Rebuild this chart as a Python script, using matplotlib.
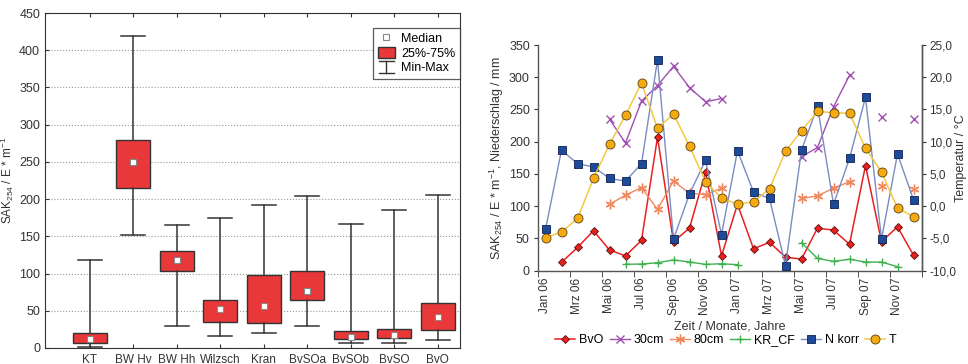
import matplotlib
matplotlib.use("Agg")
import matplotlib.pyplot as plt
import numpy as np
from matplotlib.legend_handler import HandlerBase
from matplotlib.lines import Line2D
from matplotlib.patches import Patch
from matplotlib.ticker import FuncFormatter, MultipleLocator, FixedLocator

plt.rcParams['font.family'] = ['Liberation Sans', 'DejaVu Sans']
plt.rcParams['mathtext.fontset'] = 'custom'
plt.rcParams['mathtext.rm'] = 'Liberation Sans'
plt.rcParams['mathtext.it'] = 'Liberation Sans:italic'
plt.rcParams['mathtext.bf'] = 'Liberation Sans:bold'

nan = np.nan

# linke Grafik: SAK254 je Messstelle
sites = ['KT', 'BW Hv', 'BW Hh', 'Wilzsch', 'Kran', 'BvSOa', 'BvSOb', 'BvSO', 'BvO']
sak_min = [1, 152, 29, 16, 20, 29, 7, 7, 11]
sak_q1 = [7, 215, 104, 35, 34, 65, 12, 13, 24]
sak_med = [12, 250, 118, 52, 57, 77, 15, 17, 41]
sak_q3 = [20, 280, 130, 65, 98, 104, 23, 26, 61]
sak_max = [118, 419, 165, 174, 192, 204, 166, 186, 206]

# rechte Grafik: Monatswerte Jan 06 - Dez 07
months = ['Jan 06', 'Feb 06', 'Mrz 06', 'Apr 06', 'Mai 06', 'Jun 06', 'Jul 06', 'Aug 06',
          'Sep 06', 'Okt 06', 'Nov 06', 'Dez 06', 'Jan 07', 'Feb 07', 'Mrz 07', 'Apr 07',
          'Mai 07', 'Jun 07', 'Jul 07', 'Aug 07', 'Sep 07', 'Okt 07', 'Nov 07', 'Dez 07']
bvo = [nan, 13, 36, 62, 32, 23, 47, 207, 45, 66, 153, 23,
       103, 34, 44, 21, 18, 66, 63, 41, 163, 45, 68, 24]
cm30 = [nan, nan, nan, nan, 235, 198, 263, 287, 317, 284, 262, 267,
        nan, nan, nan, nan, 177, 191, 254, 303, nan, 238, nan, 236]
cm80 = [nan, nan, nan, nan, 103, 117, 129, 95, 139, 120, 118, 128,
        nan, nan, nan, nan, 112, 116, 128, 138, nan, 132, nan, 126]
kr_cf = [nan, nan, nan, nan, nan, 10, 10.3, 12.4, 16.7, 13.5, 9.8, 10.8,
         9.3, nan, nan, nan, 43.5, 19, 14.5, 17.8, 13.4, 13.4, 6.2, nan]
n_korr = [64, 187, 166, 161, 143, 139, 166, 327, 49, 119, 171, 56,
          186, 122, 112, 8, 187, 255, 103, 174, 269, 49, 181, 110]
temp = [-4.9, -4.0, -1.9, 4.3, 9.6, 14.1, 19.1, 12.1, 14.3, 9.3, 3.8, 1.3,
        0.3, 0.7, 2.7, 8.5, 11.7, 14.7, 14.5, 14.4, 9.0, 5.3, -0.3, -1.6]

sak_label = 'SAK$_{254}$ / E * m$^{-1}$'
dark = '#333333'


class MinMaxHandler(HandlerBase):
    # Legendensymbol fuer Min-Max (Whisker mit Kappen)
    def create_artists(self, legend, orig_handle, xdescent, ydescent,
                       width, height, fontsize, trans):
        x0, x1 = -xdescent + width * 0.05, -xdescent + width * 0.95
        cx = -xdescent + width / 2
        yb, yt = -ydescent, -ydescent + height
        kw = dict(color=dark, lw=1.0, transform=trans)
        return [Line2D([x0, x1], [yt, yt], **kw),
                Line2D([cx, cx], [yb, yt], **kw),
                Line2D([x0, x1], [yb, yb], **kw)]


fig = plt.figure(figsize=(9.68, 3.64), dpi=100)

# ---------- Boxplot ----------
ax1 = fig.add_axes([45 / 968, 16 / 364, 415 / 968, 335 / 364])
pos = np.arange(1, len(sites) + 1)
stats = []
for i in range(len(sites)):
    stats.append({'med': sak_med[i], 'q1': sak_q1[i], 'q3': sak_q3[i],
                  'whislo': sak_min[i], 'whishi': sak_max[i], 'fliers': []})
ax1.bxp(stats, positions=pos, widths=0.78, capwidths=0.55, patch_artist=True,
        showfliers=False,
        boxprops=dict(facecolor='#e8383a', edgecolor=dark, linewidth=1.0),
        whiskerprops=dict(color=dark, linewidth=1.1),
        capprops=dict(color=dark, linewidth=1.1),
        medianprops=dict(linestyle='none'), zorder=3)
ax1.plot(pos, sak_med, 's', ms=5, mfc='white', mec='#888888', mew=0.8, ls='none', zorder=4)

ax1.set_xlim(-0.034, 9.51)
ax1.set_ylim(0, 450)
ax1.set_xticks(pos)
ax1.set_xticklabels(sites, fontsize=8.5)
ax1.yaxis.set_major_locator(MultipleLocator(50))
ax1.tick_params(axis='both', direction='in', labelsize=9, colors=dark, length=3)
ax1.tick_params(axis='x', top=True, pad=4, labelsize=8.5)
ax1.grid(axis='y', linestyle=':', color='#999999', linewidth=0.8, zorder=0)
ax1.set_axisbelow(True)
for s in ax1.spines.values():
    s.set_color(dark)
ax1.set_ylabel(sak_label, fontsize=8.5, color=dark)
ax1.yaxis.set_label_coords((16 - 45) / 415, 0.5)

h_med = Line2D([], [], marker='s', ms=5, mfc='white', mec='#888888', mew=0.8, ls='none')
h_box = Patch(facecolor='#e8383a', edgecolor=dark, linewidth=1.0)
h_mm = object()
leg1 = ax1.legend([h_med, h_box, h_mm], ['Median', '25%-75%', 'Min-Max'],
                  handler_map={h_mm: MinMaxHandler()},
                  loc='upper right', bbox_to_anchor=(1.0, 1 - 14.5 / 335),
                  borderaxespad=0, fontsize=9, frameon=True, fancybox=False,
                  handlelength=1.4, handleheight=1.0, handletextpad=0.5,
                  labelspacing=0.15, borderpad=0.35)
leg1.get_frame().set_edgecolor(dark)
leg1.get_frame().set_linewidth(0.9)

# ---------- Zeitreihen ----------
ax2 = fig.add_axes([537.5 / 968, (364 - 270.7) / 364, 384 / 968, 225.7 / 364])
axT = ax2.twinx()
x = np.arange(len(months))

ax2.plot(x, bvo, color='#e82020', lw=1.1, marker='D', ms=4.5, mfc='#e82020',
         mec='#5a1010', mew=0.6, label='BvO', zorder=3)
ax2.plot(x, cm30, color='#a050b0', lw=1.0, marker='x', ms=6, mew=1.0,
         label='30cm', zorder=3)
ax2.plot(x, cm80, color='#f08860', lw=1.0, marker=(6, 2, 0), ms=7, mew=1.0,
         label='80cm', zorder=3)
ax2.plot(x, kr_cf, color='#40b050', lw=1.0, marker='+', ms=6, mew=1.0,
         label='KR_CF', zorder=3)
ax2.plot(x, n_korr, color='#7a8cc0', lw=1.0, marker='s', ms=5.5, mfc='#1e4a9a',
         mec='#0c2050', mew=0.6, label='N korr', zorder=4)
axT.plot(x, temp, color='#f5c842', lw=1.1, marker='o', ms=6.5, mfc='#f5aa10',
         mec='#5a4010', mew=0.6, label='T', zorder=5)

ax2.set_xlim(-0.5, len(months) - 0.5)
ax2.set_ylim(0, 350)
axT.set_ylim(-10, 25)
ax2.yaxis.set_major_locator(MultipleLocator(50))
axT.yaxis.set_major_locator(MultipleLocator(5))
axT.yaxis.set_major_formatter(FuncFormatter(lambda v, p: f'{v:.1f}'.replace('.', ',')))

ax2.set_xticks(x[::2])
ax2.set_xticklabels(months[::2], rotation=90, fontsize=8.5, color=dark)
ax2.xaxis.set_minor_locator(FixedLocator(np.arange(-0.5, len(months), 2)))
ax2.tick_params(axis='x', which='major', length=0, pad=5)
ax2.tick_params(axis='x', which='minor', length=4, direction='out', color=dark)
ax2.tick_params(axis='y', direction='out', length=3, pad=2.5, labelsize=9, colors=dark)
axT.tick_params(axis='y', direction='out', length=3, pad=2.5, labelsize=8.5, colors=dark)

for a in (ax2, axT):
    a.spines['top'].set_visible(False)
    for s in a.spines.values():
        s.set_color('#555555')
        s.set_linewidth(1.0)
axT.spines['left'].set_visible(False)
axT.spines['bottom'].set_visible(False)

ax2.set_ylabel(sak_label + ', Niederschlag / mm', fontsize=9, color=dark)
ax2.yaxis.set_label_coords((506 - 537.5) / 384, 0.5)
axT.set_ylabel('Temperatur / °C', fontsize=9, color=dark)
axT.yaxis.set_label_coords((955 - 537.5) / 384, 0.5)
ax2.set_xlabel('Zeit / Monate, Jahre', fontsize=9, color=dark, labelpad=4)

handles = ax2.get_lines() + axT.get_lines()
fig.legend(handles, [h.get_label() for h in handles], loc='center',
           bbox_to_anchor=(726 / 968, 1 - 340 / 364), ncol=6, frameon=False,
           fontsize=9, handlelength=1.6, handletextpad=0.3, columnspacing=0.5)

fig.savefig('out.png', dpi=100)
